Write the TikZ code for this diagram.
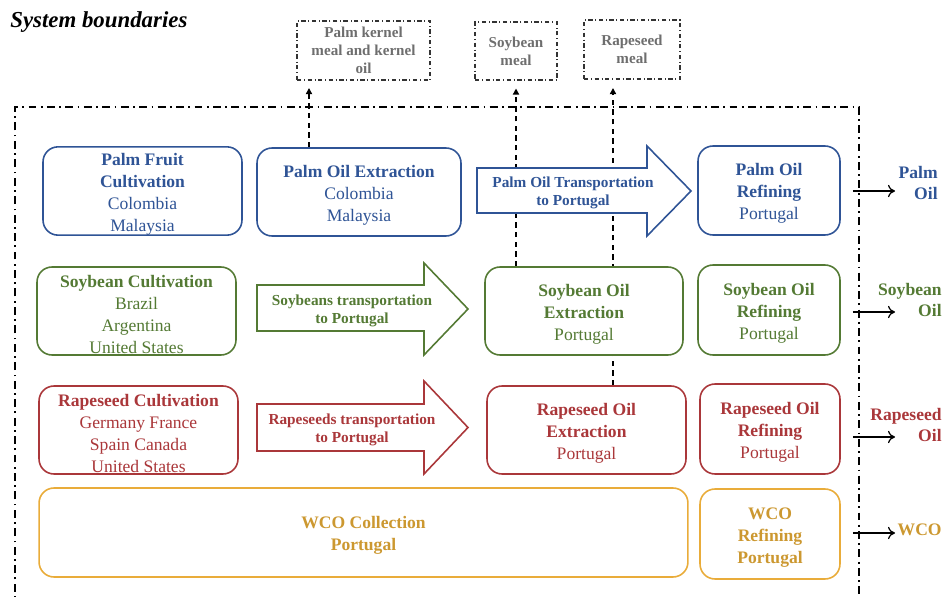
\documentclass[tikz,border=0pt]{standalone}
\usepackage{fontspec}
\setmainfont{Liberation Serif}
\usetikzlibrary{calc,positioning,arrows.meta,backgrounds}

\definecolor{palmblue}{RGB}{47,84,150}
\definecolor{soygreen}{RGB}{84,122,52}
\definecolor{rapered}{RGB}{170,55,58}
\definecolor{wcogold}{RGB}{233,172,58}
\definecolor{wcotext}{RGB}{204,152,48}
\definecolor{mealgrey}{RGB}{110,110,110}

% taller first line, pushes the text block a little down
\newcommand{\firstln}{\rule{0pt}{10.6pt}}

\tikzset{
  stage/.style={draw, rounded corners=0.3cm, line width=0.9pt, fill=white, align=center,
    inner sep=0pt, font=\fontsize{10}{12.5}\selectfont},
  coproduct/.style={draw=black!80, line width=0.6pt, dash pattern=on 2.5pt off 1.5pt on 0.5pt off 1.5pt,
    align=center, text=mealgrey, inner sep=0pt, font=\fontsize{8.6}{10.4}\selectfont\bfseries},
  transport/.style={line width=0.9pt, fill=white},
  translabel/.style={align=center, font=\fontsize{8.7}{10.4}\selectfont\bfseries},
  outlabel/.style={align=right, inner sep=0pt, font=\fontsize{10}{12}\selectfont\bfseries},
  outarr/.style={-{To[length=4pt,width=7pt]}, line width=0.7pt, shorten <=0.24cm},
  meallink/.style={-{Triangle[length=3.5pt,width=3.5pt]}, line width=0.8pt, dash pattern=on 3pt off 2.5pt},
  boundary/.style={line width=1.1pt, dash pattern=on 4.5pt off 2.5pt on 1pt off 2.5pt}
}

\begin{document}
\begin{tikzpicture}[x=0.02cm,y=-0.02cm]
\useasboundingbox (0,0) rectangle (947,597);

\node[anchor=west, inner sep=0pt, font=\fontsize{13}{15}\selectfont\bfseries\itshape] (title) at (10,22) {System boundaries};

% system boundary
\draw[boundary] (15,610) -- (15,107) -- (859,107) -- (859,610);

% co-products
\node[coproduct, minimum width=2.66cm, minimum height=1.18cm] (pkm) at (363.5,50.5) {Palm kernel\\meal and kernel\\oil};
\node[coproduct, minimum width=1.64cm, minimum height=1.16cm] (sbm) at (516,51) {Soybean\\meal};
\node[coproduct, minimum width=1.92cm, minimum height=1.18cm] (rsm) at (632,49.5) {Rapeseed\\meal};

% palm row
\node[stage, draw=palmblue, text=palmblue, minimum width=3.98cm, minimum height=1.76cm] (pfc) at (142.5,191)
  {\firstln\textbf{Palm Fruit}\\\textbf{Cultivation}\\Colombia\\Malaysia};
\node[stage, draw=palmblue, text=palmblue, minimum width=4.08cm, minimum height=1.76cm] (pox) at (359,192)
  {\firstln\textbf{Palm Oil Extraction}\\Colombia\\Malaysia};
\node[stage, draw=palmblue, text=palmblue, minimum width=2.84cm, minimum height=1.78cm] (por) at (769,190.5)
  {\firstln\textbf{Palm Oil}\\\textbf{Refining}\\Portugal};

% soybean row
\node[stage, draw=soygreen, text=soygreen, minimum width=3.98cm, minimum height=1.76cm] (sbc) at (136.5,311)
  {\firstln\textbf{Soybean Cultivation}\\Brazil\\Argentina\\United States};
\node[stage, draw=soygreen, text=soygreen, minimum width=3.96cm, minimum height=1.76cm] (sox) at (584,311)
  {\firstln\textbf{Soybean Oil}\\\textbf{Extraction}\\Portugal};
\node[stage, draw=soygreen, text=soygreen, minimum width=2.84cm, minimum height=1.8cm] (sor) at (769,310)
  {\firstln\textbf{Soybean Oil}\\\textbf{Refining}\\Portugal};

% rapeseed row
\node[stage, draw=rapered, text=rapered, minimum width=3.98cm, minimum height=1.76cm] (rsc) at (138.5,430)
  {\firstln\textbf{Rapeseed Cultivation}\\Germany France\\Spain Canada\\United States};
\node[stage, draw=rapered, text=rapered, minimum width=3.98cm, minimum height=1.76cm] (rox) at (586.5,430)
  {\firstln\textbf{Rapeseed Oil}\\\textbf{Extraction}\\Portugal};
\node[stage, draw=rapered, text=rapered, minimum width=2.8cm, minimum height=1.8cm] (ror) at (770,429)
  {\firstln\textbf{Rapeseed Oil}\\\textbf{Refining}\\Portugal};

% wco row
\node[stage, draw=wcogold, text=wcotext, minimum width=12.98cm, minimum height=1.78cm] (wcc) at (363.5,532.5)
  {\firstln\textbf{WCO Collection}\\\textbf{Portugal}};
\node[stage, draw=wcogold, text=wcotext, minimum width=2.8cm, minimum height=1.8cm] (wcr) at (770,534)
  {\firstln\textbf{WCO}\\\textbf{Refining}\\\textbf{Portugal}};

% transport arrows
\draw[transport, draw=palmblue] (477,168) -- (647,168) -- (647,146) -- (691,191) -- (647,236) -- (647,213) -- (477,213) -- cycle;
\node[translabel, text=palmblue] (pot) at (573,193) {Palm Oil Transportation\\to Portugal};
\draw[transport, draw=soygreen] (257,285) -- (424,285) -- (424,263) -- (468,309) -- (424,355) -- (424,331) -- (257,331) -- cycle;
\node[translabel, text=soygreen] (sbt) at (352,311) {Soybeans transportation\\to Portugal};
\draw[transport, draw=rapered] (257,404) -- (424,404) -- (424,381) -- (468,427.5) -- (424,474) -- (424,451) -- (257,451) -- cycle;
\node[translabel, text=rapered] (rst) at (352,430) {Rapeseeds transportation\\to Portugal};

% links to co-products
\coordinate (k1) at (309,88);
\coordinate (k3) at (613,88);
\begin{pgfonlayer}{background}
\draw[meallink] (pox.north -| k1) -- (k1);
\draw[meallink] (sox.north -| sbm.south) -- ([yshift=-0.16cm]sbm.south);
\draw[meallink] (rox.north -| k3) -- (k3);
\end{pgfonlayer}

% products
\node[outlabel, text=palmblue, anchor=east] (pol) at (938,183) {Palm\\Oil};
\node[outlabel, text=soygreen, anchor=east] (sol) at (942,300) {Soybean\\Oil};
\node[outlabel, text=rapered, anchor=east] (rol) at (942,425) {Rapeseed\\Oil};
\node[outlabel, text=wcotext, anchor=east] (wol) at (942,530) {WCO};

\coordinate (o1) at (895,191); %palm
\coordinate (o2) at (895,312); %soy
\coordinate (o3) at (895,437); %rape
\coordinate (o4) at (895,533); %wco
\draw[outarr] (por.east |- o1) -- (o1);
\draw[outarr] (sor.east |- o2) -- (o2);
\draw[outarr] (ror.east |- o3) -- (o3);
\draw[outarr] (wcr.east |- o4) -- (o4);
\end{tikzpicture}
\end{document}
